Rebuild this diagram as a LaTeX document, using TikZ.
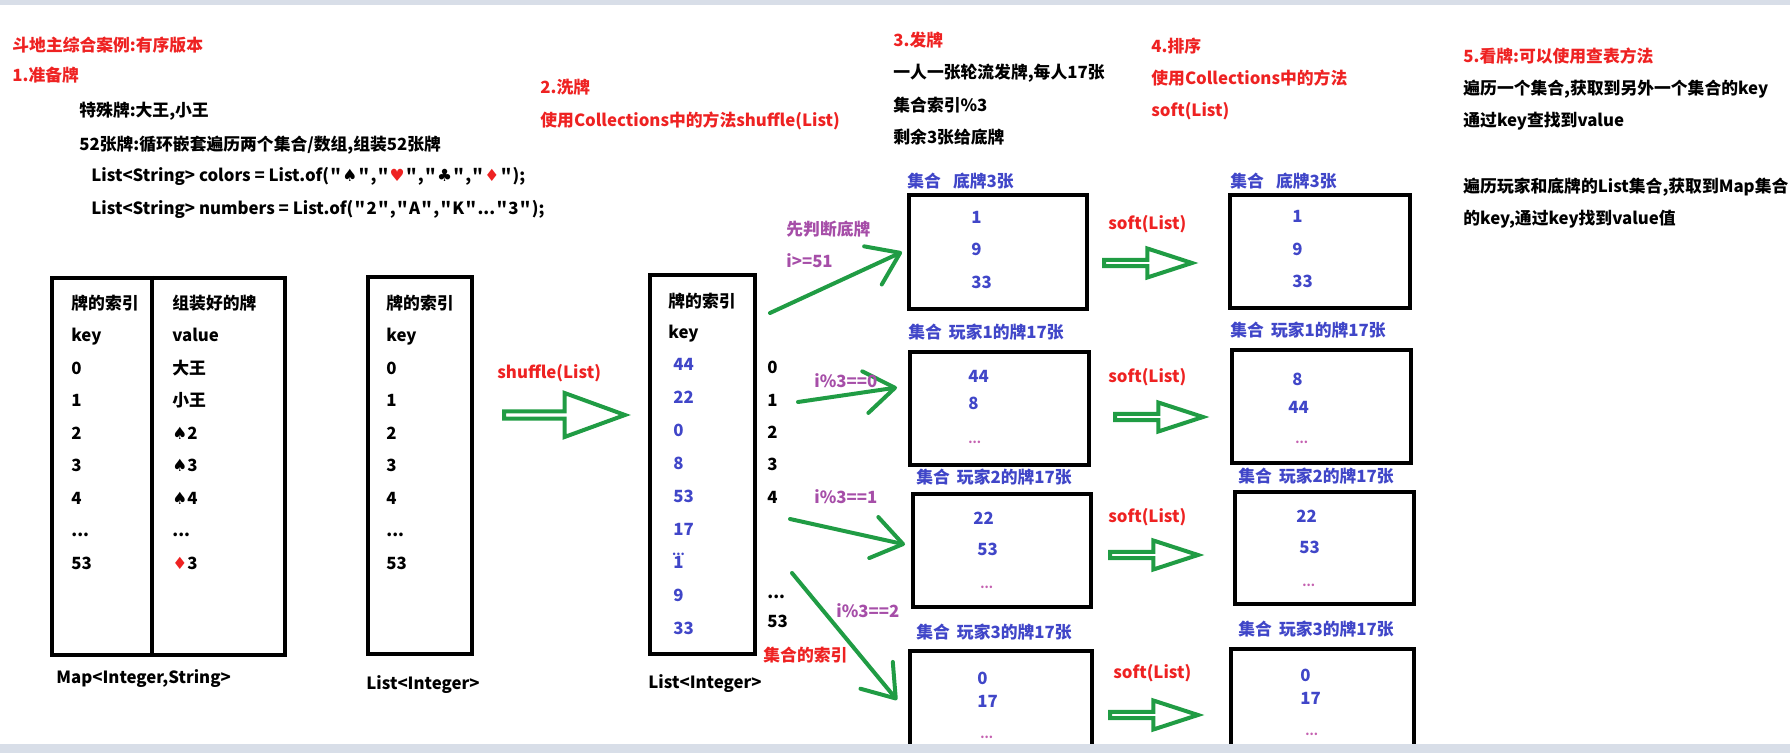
\documentclass[tikz,border=0pt]{standalone}
\usepackage{fontspec}
\setmainfont{Noto Sans CJK SC}[Ligatures=TeXOff]
\newfontfamily\suitfont{DejaVu Sans}
\usetikzlibrary{shapes.arrows,arrows.meta}

\definecolor{hdred}{RGB}{238,34,34}
\definecolor{numblue}{RGB}{64,70,200}
\definecolor{condpurple}{RGB}{166,78,168}
\definecolor{handgreen}{RGB}{32,156,68}
\definecolor{dotpink}{RGB}{196,96,176}
\definecolor{chromegray}{RGB}{216,222,232}

\newcommand\suitS{{\suitfont ♠}}
\newcommand\suitH{{\suitfont\color{hdred}♥}}
\newcommand\suitC{{\suitfont ♣}}
\newcommand\suitD{{\suitfont\color{hdred}♦}}
\newcommand\ellip{...}
\newcommand\qt{\kern0.65pt"\kern0.65pt}

\begin{document}
\begin{tikzpicture}[
  x=0.5pt, y=-0.5pt,
  txt/.style={font=\bfseries\fontsize{8.4}{10}\selectfont, anchor=west, inner sep=0pt, text height=7.4pt, text depth=1.6pt},
  head/.style={txt, text=hdred},
  note/.style={txt, text=black},
  cond/.style={txt, text=condpurple},
  num/.style={txt, text=numblue},
  dots/.style={txt, text=dotpink, font=\bfseries\fontsize{6}{7}\selectfont},
  tbl/.style={draw, line width=2pt, inner sep=0pt, anchor=north west},
  deal/.style={draw=handgreen, line width=2pt, line cap=round, -{Straight Barb[length=15pt, width=21pt, round]}},
  fat/.style={single arrow, draw=handgreen, line width=2pt, fill=white, inner sep=0pt, anchor=tail},
  sortfat/.style={fat, minimum height=44pt, minimum width=14.5pt, single arrow head extend=3.5pt, single arrow tip angle=36},
]
\useasboundingbox (0,0) rectangle (1790,753);

% === 1. PREPARE CARDS ===
\node[head] (title) at (12,46) {斗地主综合案例:有序版本};
\node[head] (st1) at (12,76) {1.准备牌};
\node[note] (st1a) at (79,111) {特殊牌:大王,小王};
\node[note] (st1b) at (79,145) {52张牌:循环嵌套遍历两个集合/数组,组装52张牌};
\node[note] (st1c) at (91,176) {List<String> colors = List.of(\qt\suitS\qt,\qt\suitH\qt,\qt\suitC\qt,\qt\suitD\qt);};
\node[note] (st1d) at (91,209) {List<String> numbers = List.of(\qt2\qt,\qt A\qt,\qt K\qt...\qt3\qt);};

% map: index -> card
\node[tbl, minimum width=116.5pt, minimum height=188.5pt] (mapT) at (50,276) {};
\coordinate (mapMid) at (152,276);
\draw[line width=2pt] (mapMid) -- (mapMid |- mapT.south);
\foreach \k/\v [count=\i] in {牌的索引/组装好的牌, key/value, 0/大王, 1/小王, 2/\suitS2, 3/\suitS3, 4/\suitS4, \ellip/\ellip, 53/\suitD3}
{
  \node[note] (mk\i) at (71,271+32.5*\i) {\k};
  \node[note] (mv\i) at (172,271+32.5*\i) {\v};
}
\node[note] (mapL) at (56,678) {Map<Integer,String>};

% list of indexes
\node[tbl, minimum width=52pt, minimum height=188.5pt] (listT) at (366,275) {};
\foreach \k [count=\i] in {牌的索引, key, 0, 1, 2, 3, 4, \ellip, 53}
  \node[note] (lk\i) at (386,271+32.5*\i) {\k};
\node[note] (listL) at (366,684) {List<Integer>};

% === 2. SHUFFLE ===
\node[head] (st2) at (540,88) {2.洗牌};
\node[head] (st2a) at (540,121) {使用Collections中的方法shuffle(List)};
\node[head] (shufL) at (497,373) {shuffle(List)};
\node[fat, minimum height=60.5pt, minimum width=22pt, single arrow head extend=5pt, single arrow tip angle=40] (shufArr) at (502,415) {};

\node[tbl, minimum width=52.5pt, minimum height=189.5pt] (shufT) at (648,273) {};
\node[note] (sh1) at (668,302) {牌的索引};
\node[note] (sh2) at (668,333) {key};
\foreach \v [count=\i] in {44,22,0,8,53,17,{\makebox[0pt][l]{\hspace{-0.6pt}\raisebox{6.6pt}{\fontsize{6}{7}\selectfont...}}1},9,33}
  \node[num] (sv\i) at (673,332+33*\i) {\v};
\foreach \v/\y [count=\i] in {0/368, 1/401, 2/433, 3/465, 4/498, \ellip/593, 53/622}
  \node[note] (ix\i) at (767,\y) {\v};
\node[head] (ixL) at (763,656) {集合的索引};
\node[note] (shufL2) at (648,683) {List<Integer>};

% === 3. DEAL ===
\node[head] (st3) at (893,41) {3.发牌};
\node[note] (st3a) at (893,73) {一人一张轮流发牌,每人17张};
\node[note] (st3b) at (893,106) {集合索引\%3};
\node[note] (st3c) at (893,138) {剩余3张给底牌};

\node[num] (dipaiT) at (907,182) {集合\hspace{6pt}底牌3张};
\node[tbl, minimum width=89pt, minimum height=57pt] (dipai) at (907,193) {};
\node[num] (p1T) at (908,333) {集合\hspace{3.5pt}玩家1的牌17张};
\node[tbl, minimum width=89.5pt, minimum height=56.5pt] (p1) at (908,350) {};
\node[num] (p2T) at (916,478) {集合\hspace{3.5pt}玩家2的牌17张};
\node[tbl, minimum width=89pt, minimum height=56.5pt] (p2) at (911,492) {};
\node[num] (p3T) at (916,633) {集合\hspace{3.5pt}玩家3的牌17张};
\node[tbl, draw=none, minimum width=89pt, minimum height=47pt] (p3) at (910,651) {};
\draw[line width=2pt] (p3.south west) -- (p3.north west) -- (p3.north east) -- (p3.south east);

\foreach \nm/\x/\y/\v in {a1/971/218/1, a2/971/250/9, a3/971/283/33, b1/968/377/44, b2/968/404/8, c1/973/519/22, c2/977/550/53, d1/977/679/0, d2/977/702/17}
  \node[num] (\nm) at (\x,\y) {\v};
\foreach \nm/\x/\y in {b3/968/438, c3/980/583, d3/980/733}
  \node[dots] (\nm) at (\x,\y) {\ellip};

% hand drawn deal arrows
\coordinate (fromDi) at (770,313);
\coordinate (fromP1) at (798,402);
\coordinate (fromP2) at (790,519);
\coordinate (fromP3) at (792,573);
\draw[deal] (fromDi) -- ([xshift=-2.5pt]dipai.west);
\draw[deal] (fromP1) -- ([shift={(-5.5pt,10.5pt)}]p1.west);
\draw[deal] (fromP2) -- ([shift={(-3pt,3pt)}]p2.west);
\draw[deal] (fromP3) -- ([xshift=-6.5pt]p3.west);
\node[cond] (cd0) at (786,230) {先判断底牌};
\node[cond] (cd1) at (786,262) {i>=51};
\node[cond] (cd2) at (814,382) {i\%3==0};
\node[cond] (cd3) at (814,498) {i\%3==1};
\node[cond] (cd4) at (836,612) {i\%3==2};

% === 4. SORT ===
\node[head] (st4) at (1151,47) {4.排序};
\node[head] (st4a) at (1151,79) {使用Collections中的方法};
\node[head] (st4b) at (1151,111) {soft(List)};
\foreach \nm/\x/\y in {sortA/1102/263, sortB/1113/417, sortC/1108/555, sortD/1108/715}
  \node[sortfat] (\nm) at (\x,\y) {};
\foreach \nm/\x/\y in {soA/1108/224, soB/1108/377, soC/1108/517, soD/1113/673}
  \node[head] (\nm) at (\x,\y) {soft(List)};

\node[num] (dipaiST) at (1230,182) {集合\hspace{6pt}底牌3张};
\node[tbl, minimum width=90pt, minimum height=56.5pt] (dipaiS) at (1228,193) {};
\node[num] (p1ST) at (1230,331) {集合\hspace{3.5pt}玩家1的牌17张};
\node[tbl, minimum width=89.5pt, minimum height=56.5pt] (p1S) at (1230,348) {};
\node[num] (p2ST) at (1238,477) {集合\hspace{3.5pt}玩家2的牌17张};
\node[tbl, minimum width=89.5pt, minimum height=56pt] (p2S) at (1233,490) {};
\node[num] (p3ST) at (1238,630) {集合\hspace{3.5pt}玩家3的牌17张};
\node[tbl, draw=none, minimum width=89.5pt, minimum height=48pt] (p3S) at (1231,649) {};
\draw[line width=2pt] (p3S.south west) -- (p3S.north west) -- (p3S.north east) -- (p3S.south east);

\foreach \nm/\x/\y/\v in {e1/1292/217/1, e2/1292/250/9, e3/1292/282/33, f1/1292/380/8, f2/1288/408/44, g1/1296/517/22, g2/1299/548/53, h1/1300/676/0, h2/1300/699/17}
  \node[num] (\nm) at (\x,\y) {\v};
\foreach \nm/\x/\y in {f3/1295/438, g3/1302/581, h3/1305/730}
  \node[dots] (\nm) at (\x,\y) {\ellip};

% === 5. LOOK UP ===
\node[head] (st5) at (1463,57) {5.看牌:可以使用查表方法};
\node[note] (st5a) at (1463,89) {遍历一个集合,获取到另外一个集合的key};
\node[note] (st5b) at (1463,121) {通过key查找到value};
\node[note] (st5c) at (1463,187) {遍历玩家和底牌的List集合,获取到Map集合};
\node[note] (st5d) at (1463,219) {的key,通过key找到value值};

% window edges
\fill[chromegray] (0,0) rectangle (1790,5);
\fill[chromegray] (0,744) rectangle (1790,753);
\end{tikzpicture}
\end{document}
